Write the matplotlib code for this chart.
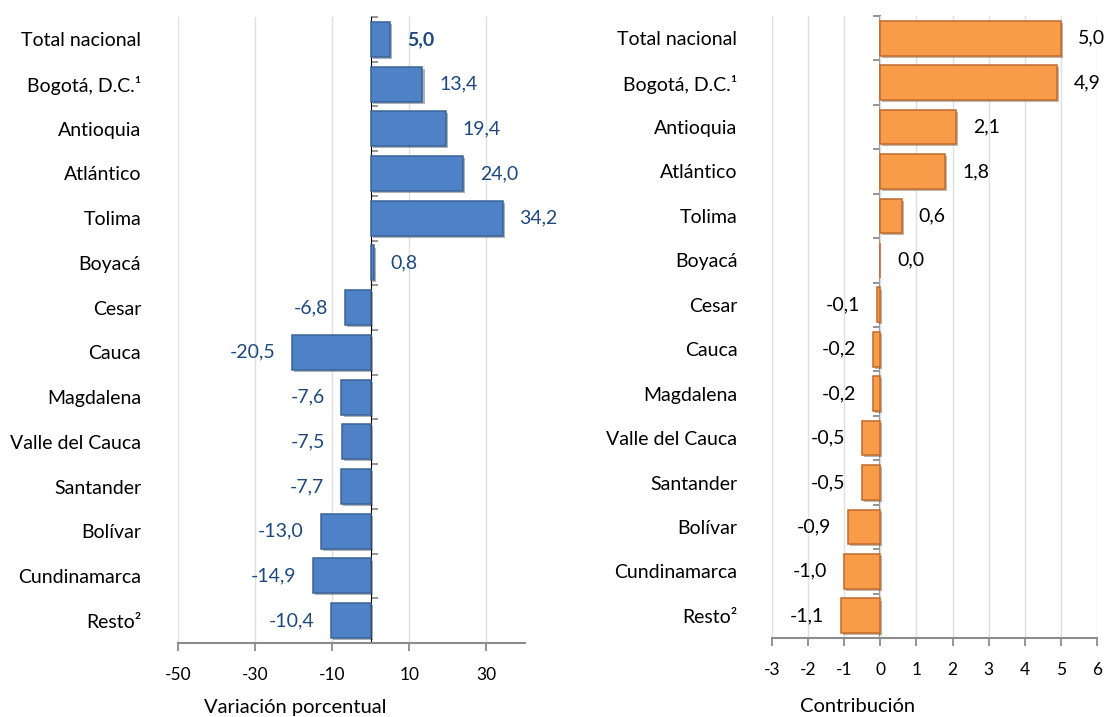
import numpy as np
import matplotlib
matplotlib.use("Agg")
import matplotlib.pyplot as plt
import matplotlib.patheffects as pe

plt.rcParams['font.family'] = ['Lato', 'DejaVu Sans']

categories = ["Total nacional", "Bogotá, D.C.¹", "Antioquia", "Atlántico", "Tolima",
              "Boyacá", "Cesar", "Cauca", "Magdalena", "Valle del Cauca",
              "Santander", "Bolívar", "Cundinamarca", "Resto²"]
variacion = [5.0, 13.4, 19.4, 24.0, 34.2, 0.8, -6.8, -20.5, -7.6, -7.5, -7.7, -13.0, -14.9, -10.4]
contribucion = [5.0, 4.9, 2.1, 1.8, 0.6, 0.0, -0.1, -0.2, -0.2, -0.5, -0.5, -0.9, -1.0, -1.1]
left_ticks = [-50, -30, -10, 10, 30]
right_ticks = [-3, -2, -1, 0, 1, 2, 3, 4, 5, 6]

GREY = '#8C8C8C'
GRID = '#E0E0E0'

fig = plt.figure(figsize=(11.05, 7.17), dpi=100)
axL = fig.add_axes([178/1105, 74/717, 347/1105, 626/717])
axR = fig.add_axes([772/1105, 79/717, 325/1105, 622/717])

def fmt(v):
    return f"{v:.1f}".replace('.', ',')

def setup(ax, xlim, ticks, fill, edge, vals, lblcolor, pad_pts, bold_first):
    y = np.arange(len(categories))
    bars = ax.barh(y, vals, height=0.78, color=fill, edgecolor=edge, linewidth=1.1, zorder=3)
    for b in bars:
        b.set_path_effects([pe.SimplePatchShadow(offset=(1.5, -1.5), alpha=0.35), pe.Normal()])
    ax.set_xlim(*xlim)
    ax.set_ylim(len(categories) - 0.5, -0.5)
    ax.set_xticks(ticks)
    ax.set_xticklabels([str(t) for t in ticks], fontsize=12.5)
    ax.xaxis.grid(True, color=GRID, linewidth=1, zorder=0)
    ax.set_axisbelow(True)
    ax.set_yticks(y)
    ax.set_yticklabels(categories, fontsize=14)
    ax.tick_params(axis='y', length=0, pad=pad_pts)
    ax.tick_params(axis='x', length=6, width=1.3, color=GREY, direction='out', pad=11)
    for s in ['top', 'right', 'left']:
        ax.spines[s].set_visible(False)
    ax.spines['bottom'].set_color(GREY)
    ax.spines['bottom'].set_linewidth(1.5)
    frac = (0 - xlim[0]) / (xlim[1] - xlim[0])
    sec = ax.secondary_yaxis(frac)
    sec.set_yticks(np.arange(len(categories) + 1) - 0.5)
    sec.set_yticklabels([])
    sec.tick_params(length=5, width=1.3, color=GREY, direction='out')
    sec.spines['left'].set_color(GREY)
    sec.spines['left'].set_linewidth(1.5)
    for i, v in enumerate(vals):
        off = 12 if v >= 0 else -12
        ha = 'left' if v >= 0 else 'right'
        ax.annotate(fmt(v), xy=(v, i), xytext=(off, 0), textcoords='offset points',
                    ha=ha, va='center', fontsize=14, color=lblcolor,
                    fontweight='bold' if (bold_first and i == 0) else 'normal')

setup(axL, (-50, 40), left_ticks, '#4F81C6', '#3A6497', variacion, '#1F497D', 26.5, True)
setup(axR, (-3, 6), right_ticks, '#F99C4A', '#C06A2B', contribucion, '#000000', 25, False)

fig.text(295/1105, 1 - 707/717, "Variación porcentual", ha='center', va='center', fontsize=14.5)
fig.text(858/1105, 1 - 707/717, "Contribución", ha='center', va='center', fontsize=14.5)

fig.savefig("out.png", dpi=100)
